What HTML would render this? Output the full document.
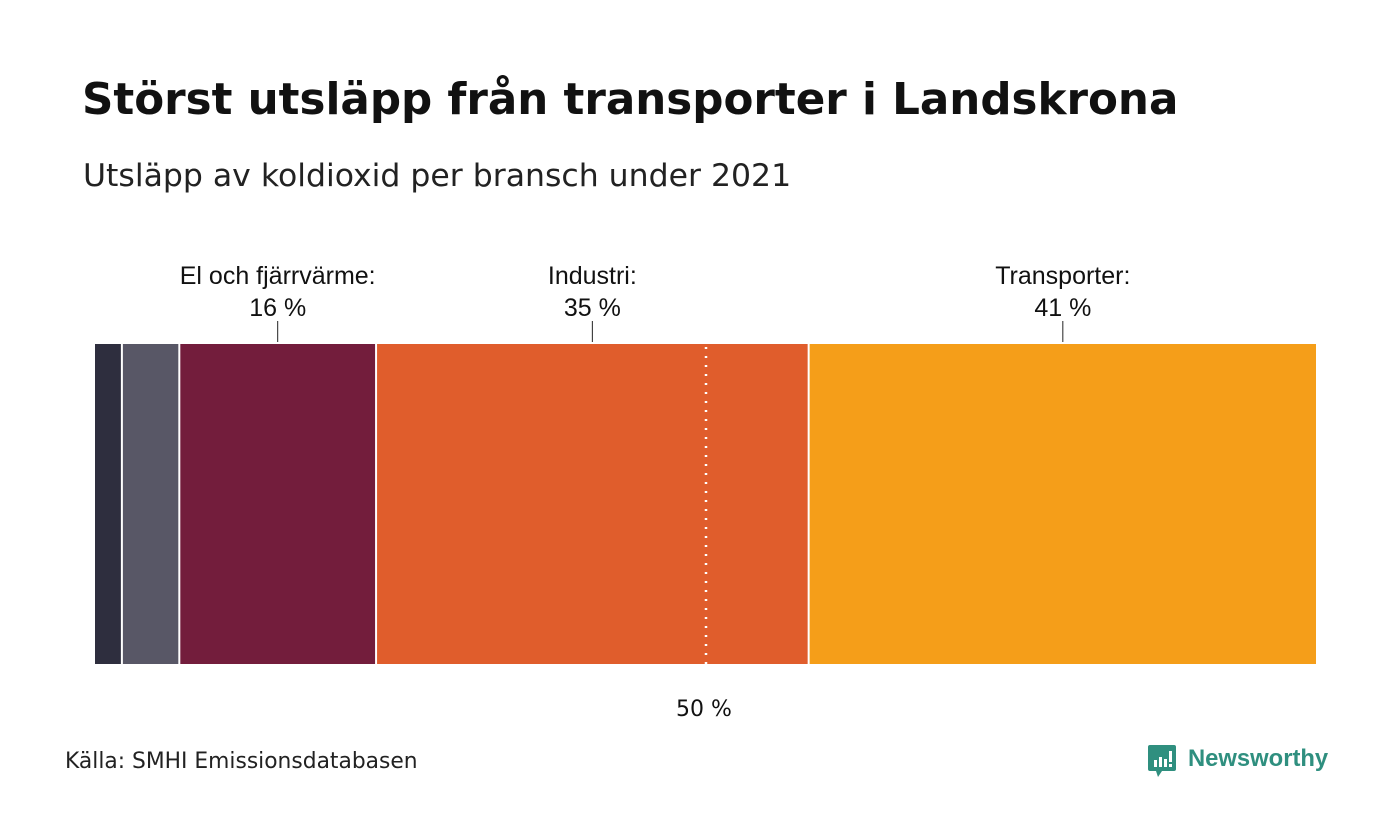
<!DOCTYPE html>
<html><head><meta charset="utf-8"><style>
body{margin:0;width:1400px;height:840px;background:#fff;font-family:"Liberation Sans",sans-serif;position:relative;overflow:hidden}
.t{position:absolute;white-space:nowrap}
.d{font-family:"DejaVu Sans",sans-serif}
</style></head><body>
<div class="t d" style="left:82px;top:75px;font-size:43.6px;font-weight:bold;color:#111">Störst utsläpp från transporter i Landskrona</div>
<div class="t d" style="left:83px;top:158px;font-size:31.5px;color:#222">Utsläpp av koldioxid per bransch under 2021</div>
<svg id="chart" width="1400" height="840" style="position:absolute;left:0;top:0"></svg>
<div class="t d" style="left:65px;top:749px;font-size:21.8px;color:#222">Källa: SMHI Emissionsdatabasen</div>
<div style="position:absolute;left:1148px;top:745px">
<svg width="30" height="36" style="position:absolute;left:0;top:0"><path d="M2 0h24a2 2 0 0 1 2 2v22a2 2 0 0 1-2 2h-12l-4 6-2-6h-6a2 2 0 0 1-2-2v-22a2 2 0 0 1 2-2z" fill="#2f8f7f"/><rect x="6" y="15" width="3" height="7" fill="#fff"/><rect x="11" y="12" width="3" height="10" fill="#fff"/><rect x="16" y="14" width="3" height="8" fill="#fff"/><rect x="21" y="6" width="3" height="11" fill="#fff"/><rect x="21" y="19" width="3" height="3" fill="#fff"/></svg>
<div class="t" style="left:40px;top:0px;font-size:23.8px;font-weight:bold;color:#2f8f7f">Newsworthy</div></div>
<script>
const categories=["Övrigt","Jordbruk","El och fjärrvärme","Industri","Transporter"];
const values=[2.2,4.7,16.1,35.4,41.6];
const colors=["#2e2e3e","#585766","#731d3c","#e05d2c","#f59e19"];
const labeledCats=["El och fjärrvärme","Industri","Transporter"];
const labelPct=["16 %","35 %","41 %"];
const refValue=50;
const svg=document.getElementById('chart');
const NS="http://www.w3.org/2000/svg";
const X0=95,X1=1317,Y0=344,Y1=664;
const total=values.reduce((a,b)=>a+b,0);
const x=v=>X0+(X1-X0)*v/total;
function mk(t,a){const e=document.createElementNS(NS,t);for(const k in a)e.setAttribute(k,a[k]);svg.appendChild(e);return e;}
let cum=0;
values.forEach((v,i)=>{
 const xa=x(cum),xb=x(cum+v);
 const r=mk('rect',{x:xa+(i?1:0),y:Y0,width:xb-xa-(i?2:1),height:Y1-Y0,fill:colors[i]});
 
 
 const li=labeledCats.indexOf(categories[i]);
 if(li>=0){
  const cx=(xa+xb)/2;
  const ln=mk('line',{x1:cx,x2:cx,y1:321,y2:342,stroke:'#222','stroke-width':1});
  
  
  const t1=mk('text',{x:cx,y:284,'text-anchor':'middle','font-size':25,fill:'#111'});t1.textContent=categories[i]+':';
  
  
  const t2=mk('text',{x:cx,y:316,'text-anchor':'middle','font-size':25,fill:'#111'});t2.textContent=labelPct[li];
  
  
 }
 cum+=v;
});
const rx=X0+(X1-X0)*refValue/100;
const rl=mk('line',{x1:rx,x2:rx,y1:Y0+3,y2:Y1,stroke:'#fff','stroke-width':2.5,'stroke-dasharray':'2,7'});


const rt=mk('text',{x:rx-2,y:716,'text-anchor':'middle','font-size':22,'font-family':'DejaVu Sans',fill:'#111'});rt.textContent=refValue+' %';


</script>
</body></html>
